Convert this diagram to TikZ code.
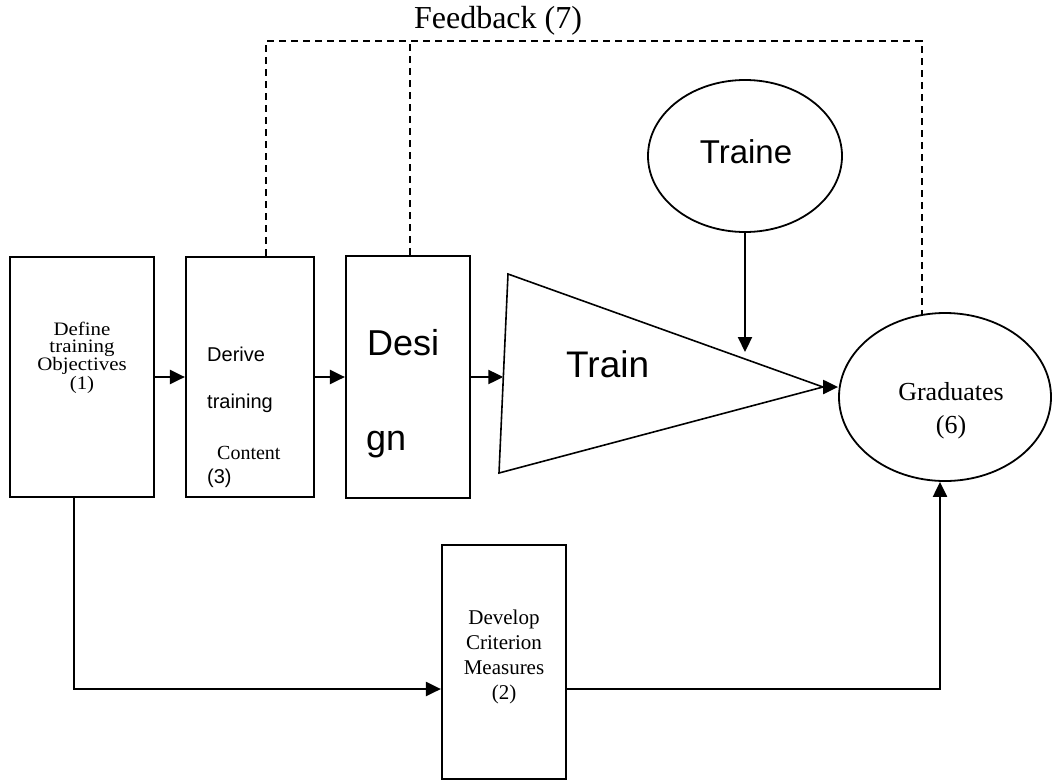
\documentclass[tikz,border=0pt]{standalone}
\usepackage{fontspec}
\setmainfont{Liberation Serif}
\newfontfamily\arial{Liberation Sans}
\usetikzlibrary{arrows.meta,shapes.geometric,calc}
\tikzset{
  boxnode/.style={draw,line width=2.2pt,rectangle,inner sep=0pt},
  ellnode/.style={draw,line width=1.8pt,ellipse,inner sep=0pt},
  arr/.style={line width=2.2pt,-{Triangle[length=15pt,width=14pt]}},
  fb/.style={line width=2.2pt,dash pattern=on 7pt off 5pt},
  txt/.style={inner sep=0pt,align=center}
}
\begin{document}
\begin{tikzpicture}[x=1pt,y=-1pt]
\useasboundingbox (0,0) rectangle (1054,782);
% boxes
\node[boxnode,minimum width=144pt,minimum height=240pt] (b1) at (82,377) {};
\node[boxnode,minimum width=128pt,minimum height=240pt] (b2) at (250,377) {};
\node[boxnode,minimum width=124pt,minimum height=242pt] (b3) at (408,377) {};
\node[boxnode,minimum width=124pt,minimum height=234pt] (dev) at (504,662) {};
\node[ellnode,minimum width=194pt,minimum height=152pt] (traine) at (745,156) {};
\node[ellnode,minimum width=212pt,minimum height=168pt] (grad) at (945,397) {};
% texts
\node[txt,font=\fontsize{19}{17}\selectfont] (t1) at (82,358) {\scalebox{1.1}[1]{\begin{tabular}{@{}c@{}}Define\\training\\Objectives\\(1)\end{tabular}}};
\node[txt,anchor=west,font=\arial\fontsize{20}{24}\selectfont] (t2a) at (207,354) {Derive};
\node[txt,anchor=west,font=\arial\fontsize{20}{24}\selectfont] (t2b) at (207,403) {training};
\node[txt,anchor=west,font=\fontsize{20}{24}\selectfont] (t2c) at (217,453) {Content};
\node[txt,anchor=west,font=\arial\fontsize{20}{24}\selectfont] (t2d) at (207,478) {(3)};
\node[txt,anchor=base west,font=\arial\fontsize{36}{40}\selectfont] (t3a) at (367,355) {Desi};
\node[txt,anchor=base west,font=\arial\fontsize{36}{40}\selectfont] (t3b) at (366,450) {gn};
\node[txt,anchor=base west,font=\arial\fontsize{37}{40}\selectfont] (ttr) at (566,377) {Train};
\node[txt,font=\arial\fontsize{33}{40}\selectfont] (ttn) at (746,152) {Traine};
\node[txt,font=\fontsize{26}{33}\selectfont] (tg) at (951,411) {Graduates\\(6)};
\node[txt,font=\fontsize{21}{25}\selectfont] (td) at (504,657) {Develop\\Criterion\\Measures\\(2)};
\node[txt,font=\fontsize{32}{36}\selectfont] (tfb) at (498,21) {Feedback (7)};
% triangle
\coordinate (ta) at (508,274);
\coordinate (tb) at (499,473);
\coordinate (tip) at (823,387);
\coordinate (tl) at (503.3,377);
\draw[line width=1.6pt,line join=miter] (ta) -- (tip) -- (tb) -- cycle;
% connectors
\draw[arr] (b1.east) -- (b2.west);
\draw[arr] (b2.east) -- (b3.west);
\draw[arr] (b3.east) -- (tl);
\draw[arr] (tip) -- (grad.west |- tip);
\coordinate (tr) at (745,352);
\draw[arr] (traine.south) -- (tr);
\coordinate (j1) at (74,689);
\coordinate (j2) at (940,689);
\draw[arr] (b1.south -| j1) -- (j1) -- (dev.west |- j1);
\draw[arr] (dev.east |- j2) -- (j2) -- (j2 |- grad.south);
% feedback
\coordinate (fa) at (266,41);
\coordinate (fm) at (410,41);
\coordinate (fz) at (922,41);
\coordinate (fe) at (922,315);
\draw[fb] (b2.north -| fa) -- (fa) -- (fz) -- (fe);
\draw[fb] (b3.north -| fm) -- (fm);
\end{tikzpicture}
\end{document}
